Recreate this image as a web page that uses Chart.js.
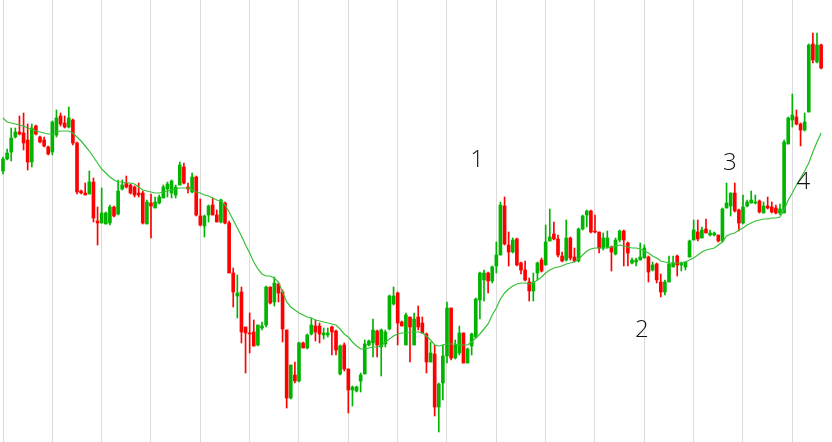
<!DOCTYPE html>
<html><head><meta charset="utf-8">
<script src="https://cdn.jsdelivr.net/npm/chart.js@4.4.1/dist/chart.umd.min.js"></script>
<style>html,body{margin:0;padding:0;background:#fff;overflow:hidden}#wrap{width:832px;height:442px;position:relative}</style>
</head><body><div id="wrap"><canvas id="c"></canvas></div>
<script>
const openP = [
82.9,84.1,84.8,86.3,86.8,86.7,86.0,83.8,87.4,86.3,
86.0,85.3,84.8,86.5,88.4,87.7,87.3,88.0,85.7,80.9,
80.7,80.6,81.8,77.9,77.7,77.6,77.7,79.3,78.6,81.1,
81.7,81.5,81.3,80.7,80.7,77.6,79.7,79.2,79.7,80.2,
81.1,80.7,80.5,81.5,83.3,81.3,80.8,82.3,78.4,77.4,
78.5,79.5,78.5,77.8,79.7,77.7,72.7,70.4,70.8,67.3,
66.7,66.8,65.5,67.2,67.5,71.3,69.8,71.6,70.8,67.0,
60.2,62.5,61.9,65.7,65.2,66.6,67.4,67.4,66.5,66.5,
67.3,66.9,62.6,65.5,63.1,61.0,60.9,61.9,62.6,65.5,
65.7,66.9,65.3,65.6,67.1,69.6,70.7,67.8,65.5,68.3,
65.5,68.3,67.7,66.6,63.8,64.6,59.3,61.7,64.4,69.2,
64.2,64.7,66.7,63.7,65.4,66.3,70.0,72.0,72.7,71.9,
73.4,74.5,79.4,75.5,74.8,76.1,73.7,73.0,71.8,70.9,
72.7,74.0,73.5,75.9,76.6,76.1,74.4,74.0,76.2,74.3,
73.9,77.1,78.5,78.9,76.9,76.8,75.2,75.3,75.3,74.6,
76.0,76.9,75.7,73.7,73.8,74.0,74.2,74.3,73.0,73.6,
71.8,70.8,71.8,73.3,74.4,73.5,73.3,74.3,76.0,76.8,
76.2,77.1,76.5,76.5,76.5,75.9,79.2,79.4,80.7,79.0,
77.7,79.4,79.7,79.7,79.9,78.7,79.4,79.3,79.2,78.7,
78.7,85.6,88.0,88.3,87.6,87.0,88.8,95.6,93.8,95.5];
const highP = [
84.3,85.1,87.2,87.2,88.4,88.7,87.6,87.6,87.5,86.4,
86.3,85.4,87.9,89.0,88.7,88.4,89.3,88.1,85.8,81.0,
81.7,82.9,82.2,79.3,81.2,78.8,79.5,79.4,82.0,82.0,
82.4,81.6,81.4,81.7,80.9,80.0,80.6,80.3,80.5,81.5,
81.8,82.0,81.5,83.8,83.7,81.7,82.7,82.4,80.1,78.5,
79.5,80.2,79.0,80.1,79.8,77.9,73.2,72.5,71.3,67.3,
68.7,68.0,67.5,67.8,71.4,71.3,72.3,71.7,71.0,67.0,
63.5,63.8,65.8,65.8,66.6,68.2,68.0,67.7,67.2,67.2,
67.4,67.0,65.5,65.7,63.1,61.4,61.4,62.7,66.0,66.0,
68.1,67.0,67.1,67.0,70.5,71.3,70.8,67.9,68.7,68.3,
68.7,69.4,68.3,66.7,65.8,65.5,61.7,65.5,69.8,69.2,
66.0,67.4,66.7,65.2,66.7,70.2,72.8,73.0,72.8,73.4,
75.8,79.8,80.3,76.8,76.2,76.2,73.8,73.9,72.2,72.7,
73.8,74.2,77.5,79.1,77.8,76.5,74.8,78.0,76.3,75.2,
77.2,78.5,79.0,79.0,78.5,76.8,76.7,76.9,75.4,76.2,
77.0,77.0,75.8,74.2,74.2,75.7,75.5,74.4,73.8,73.7,
72.6,72.0,74.4,74.4,74.5,73.8,73.8,76.0,78.0,78.0,
77.3,78.1,77.0,76.8,76.5,79.2,81.7,80.7,81.7,79.1,
80.5,80.0,80.9,80.5,80.0,79.8,80.3,79.8,79.5,79.6,
86.0,88.3,90.6,89.0,87.7,88.7,95.6,96.7,96.7,95.6];
const lowP = [
82.6,84.0,83.9,86.2,86.5,85.0,83.0,83.3,86.5,85.7,
85.3,84.5,84.5,86.3,87.4,87.2,87.2,85.5,80.6,80.6,
80.5,80.6,77.8,75.5,77.7,77.6,77.5,78.3,78.5,81.0,
81.2,80.6,80.3,80.3,77.6,77.6,76.2,79.2,79.6,80.2,
80.3,80.2,80.2,81.5,81.6,80.7,80.7,78.4,77.4,76.3,
77.8,78.5,77.8,77.7,77.6,72.7,69.3,68.2,65.7,62.7,
64.7,65.4,65.4,67.0,67.3,69.6,69.4,69.8,65.8,59.2,
60.1,61.7,61.8,65.2,65.1,66.5,65.9,65.7,66.1,66.3,
64.5,64.5,62.5,62.9,58.7,59.4,60.8,60.8,62.6,65.4,
64.3,64.3,62.4,65.3,67.0,69.5,65.5,67.4,65.5,63.8,
65.5,67.0,66.7,62.7,63.8,58.4,56.8,60.0,63.7,64.0,
64.1,64.5,63.7,63.7,64.5,66.2,68.1,69.9,70.7,71.7,
72.7,74.5,75.5,73.4,74.7,73.4,72.6,71.9,69.9,69.9,
72.0,72.8,73.5,75.9,76.0,74.3,73.8,73.9,74.0,73.8,
73.8,77.0,77.3,76.7,76.7,74.7,75.0,75.2,72.9,74.5,
75.8,73.4,73.4,73.6,73.4,74.0,74.2,71.8,72.9,71.7,
70.3,70.5,71.8,73.3,72.4,72.9,73.0,74.3,76.0,75.9,
76.2,76.7,76.4,76.4,75.8,75.8,79.2,78.4,78.8,76.9,
77.6,79.3,79.7,79.6,78.7,78.7,79.1,78.7,78.6,78.5,
78.7,85.6,87.3,87.5,85.4,86.9,88.8,93.7,93.7,93.1];
const closeP = [
84.1,84.7,86.2,86.8,86.6,85.7,83.8,87.2,86.6,85.8,
85.4,84.6,87.8,88.2,87.6,87.3,88.2,85.7,80.8,80.7,
80.5,81.8,78.2,77.7,78.7,78.7,79.3,78.4,80.9,81.5,
81.3,80.7,80.5,80.5,77.7,79.8,79.4,79.8,80.3,81.3,
81.6,81.9,81.3,83.5,81.7,81.1,82.3,78.5,77.5,78.4,
79.4,78.5,77.8,80.0,77.7,72.7,70.8,70.7,66.8,66.7,
66.6,65.4,67.5,67.4,71.3,69.7,71.7,70.7,67.1,60.2,
63.5,61.9,65.7,65.2,66.5,67.5,66.8,66.6,66.7,66.7,
66.8,65.0,65.4,63.1,61.0,61.3,61.3,62.5,65.6,65.9,
67.0,65.5,67.0,66.8,70.4,70.4,67.7,67.4,68.5,67.3,
68.1,67.3,66.7,63.8,64.7,59.3,61.6,64.4,69.2,64.2,
65.5,66.7,63.7,65.1,66.6,70.1,72.7,72.7,71.9,73.3,
74.5,79.5,75.6,74.8,76.0,73.5,73.0,72.0,70.9,71.8,
73.7,72.9,75.8,76.3,76.1,74.5,73.9,76.2,74.2,73.9,
77.1,78.4,78.9,76.8,76.8,75.2,76.2,76.2,74.8,76.0,
76.9,76.0,74.7,74.0,74.0,74.3,75.2,72.8,73.5,72.0,
70.8,71.8,73.6,73.7,73.5,73.7,73.8,75.9,77.0,76.1,
77.0,76.7,76.7,76.7,75.9,79.1,79.7,80.7,78.9,77.7,
79.3,79.8,80.0,79.8,78.8,79.4,79.2,78.8,78.7,79.1,
85.8,88.2,88.5,87.6,87.0,87.8,95.5,94.0,95.5,93.2];
const maP = [
88.2,87.8,87.7,87.6,87.5,87.4,87.2,87.1,86.9,86.8,
86.7,86.6,86.6,86.8,86.9,86.9,86.9,86.7,86.3,85.9,
85.4,84.9,84.3,83.7,83.1,82.7,82.3,82.0,81.8,81.8,
81.7,81.7,81.6,81.3,81.0,80.9,80.8,80.7,80.7,80.8,
80.9,81.0,81.1,81.2,81.2,81.2,81.0,80.8,80.7,80.5,
80.4,80.2,80.0,79.9,79.5,78.8,78.0,77.2,76.4,75.5,
74.7,73.8,73.1,72.6,72.4,72.4,72.2,71.8,70.8,69.8,
69.3,69.0,68.7,68.5,68.3,68.2,68.0,67.9,67.8,67.7,
67.6,67.5,67.1,66.6,66.3,65.8,65.4,65.1,65.1,65.2,
65.3,65.3,65.4,65.8,66.1,66.4,66.6,66.7,66.7,66.8,
66.8,66.8,66.7,66.4,66.0,65.5,65.4,65.5,65.6,65.6,
65.6,65.5,65.5,65.5,65.8,66.2,66.6,67.1,67.6,68.5,
69.2,70.1,70.7,71.1,71.4,71.6,71.7,71.7,71.6,71.7,
72.0,72.3,72.7,73.0,73.2,73.3,73.4,73.6,73.7,73.8,
74.1,74.5,74.9,75.1,75.2,75.2,75.2,75.2,75.3,75.4,
75.5,75.4,75.3,75.2,75.2,75.1,74.9,74.7,74.4,74.2,
73.9,73.8,73.7,73.7,73.7,73.7,73.8,74.0,74.2,74.5,
74.8,75.0,75.1,75.2,75.5,75.8,76.4,76.6,76.7,77.0,
77.2,77.5,77.7,77.9,78.0,78.1,78.1,78.2,78.2,78.3,
79.0,80.0,80.7,81.5,82.2,82.9,83.7,84.8,85.8,86.7];
const annoText = ['1', '2', '3', '4'];
const annoIdx = [115.3, 155.4, 176.8, 194.7];
const annoVal = [83.3, 66.3, 83.0, 81.1];
const gridEvery = 12;

const UP = '#00b400', DOWN = '#ff0000', MA = '#36c036';
const candleIdx = openP.map((_, i) => i);
const gridTicks = candleIdx.filter(i => i % gridEvery === 0);
const colorOf = ctx => closeP[ctx.dataIndex] >= openP[ctx.dataIndex] ? UP : DOWN;

const labelPlugin = {
  id: 'annoLabels',
  afterDatasetsDraw(chart) {
    const {ctx, scales: {x, y}} = chart;
    ctx.save();
    ctx.font = '300 24px "Open Sans", "Noto Sans", sans-serif';
    ctx.fillStyle = '#111';
    ctx.textAlign = 'center';
    ctx.textBaseline = 'alphabetic';
    annoText.forEach((t, k) => ctx.fillText(t, x.getPixelForValue(annoIdx[k]), y.getPixelForValue(annoVal[k])));
    ctx.restore();
  }
};

new Chart(document.getElementById('c'), {
  type: 'bar',
  data: {
    datasets: [
      { type: 'line', data: maP.map((v, i) => ({x: i, y: v})), borderColor: MA, borderWidth: 1.2,
        pointRadius: 0, tension: 0, order: 0 },
      { data: candleIdx.map(i => ({x: i, y: [openP[i], closeP[i]]})), backgroundColor: colorOf,
        barThickness: 3, minBarLength: 1, grouped: false, order: 1 },
      { data: candleIdx.map(i => ({x: i, y: [lowP[i], highP[i]]})), backgroundColor: colorOf,
        barThickness: 1, grouped: false, order: 2 }
    ]
  },
  options: {
    responsive: true, maintainAspectRatio: false, animation: false, events: [],
    layout: {padding: 0},
    plugins: {legend: {display: false}, tooltip: {enabled: false}},
    scales: {
      x: {
        type: 'linear', min: -0.73, max: 201.65, offset: false,
        grid: {offset: false, color: '#dcdcdc', lineWidth: 1, drawTicks: false},
        border: {display: false},
        ticks: {display: false},
        afterBuildTicks: s => { s.ticks = gridTicks.map(v => ({value: v})); }
      },
      y: {display: false, min: 55.8, max: 100}
    }
  },
  plugins: [labelPlugin]
});
</script>
</body></html>
